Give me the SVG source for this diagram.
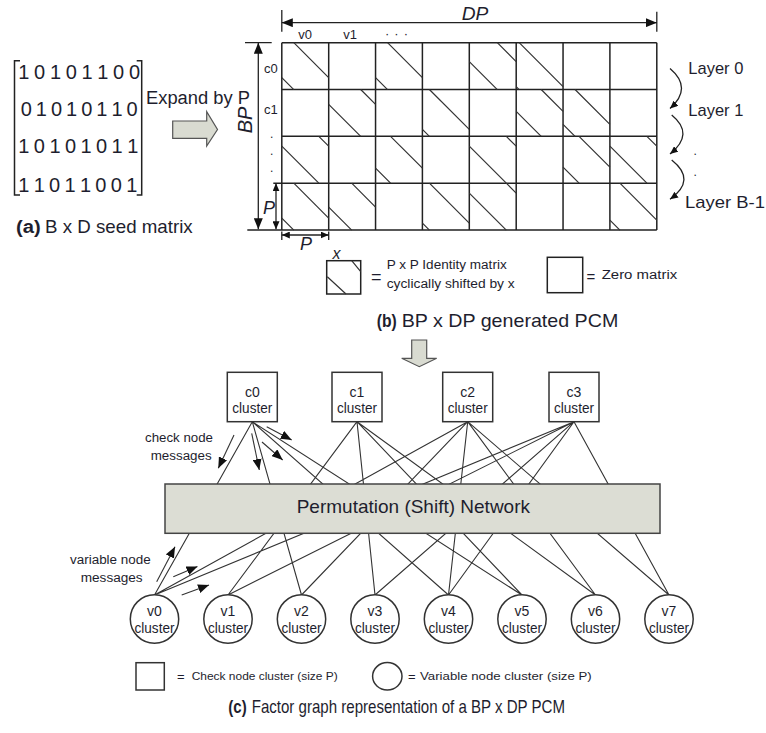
<svg xmlns="http://www.w3.org/2000/svg" width="766" height="733" viewBox="0 0 766 733">
<style>
.t{font-family:"Liberation Sans",Arial,sans-serif;fill:#1e1e2e}
.i{font-style:italic}
.b{font-weight:bold}
.g{stroke:#222;stroke-width:1.5;fill:none}
.d{stroke:#333;stroke-width:1.2;fill:none}
.e{stroke:#333;stroke-width:1.1;fill:none}
.k{stroke:#222;stroke-width:1.3;fill:none}
.nb{fill:#fff;stroke:#333;stroke-width:1.5}
.ga{fill:#d9dbd1;stroke:#555;stroke-width:1.2}
</style>
<defs>
<marker id="ah" viewBox="0 0 11 9" refX="11" refY="4.5" markerWidth="11" markerHeight="9" markerUnits="userSpaceOnUse" orient="auto-start-reverse"><path d="M0,0 L11,4.5 L0,9 z" fill="#111"/></marker>
<marker id="as" viewBox="0 0 8 7" refX="8" refY="3.5" markerWidth="8" markerHeight="7" markerUnits="userSpaceOnUse" orient="auto-start-reverse"><path d="M0,0 L8,3.5 L0,7 z" fill="#111"/></marker>
</defs>
<rect width="766" height="733" fill="#fff"/>

<g id="seed-matrix">
<path class="g" d="M20,60.7 H14.5 V195 H20 M136.7,60.7 H141.7 V195 H136.7"/>
<text class="t" x="18.3" y="79.3" font-size="20" textLength="121.7" lengthAdjust="spacing">1 0 1 0 1 1 0 0</text>
<text class="t" x="20.7" y="116" font-size="20" textLength="117" lengthAdjust="spacing">0 1 0 1 0 1 1 0</text>
<text class="t" x="18.3" y="153.3" font-size="20" textLength="120" lengthAdjust="spacing">1 0 1 0 1 0 1 1</text>
<text class="t" x="18.3" y="191.7" font-size="20" textLength="119" lengthAdjust="spacing">1 1 0 1 1 0 0 1</text>
<text class="t b" x="16" y="232.7" font-size="18" textLength="24.7" lengthAdjust="spacingAndGlyphs">(a)</text>
<text class="t" x="45" y="232.7" font-size="18.5" textLength="147.7" lengthAdjust="spacingAndGlyphs">B x D seed matrix</text>
</g>

<g id="expand-arrow">
<polygon class="ga" points="172.7,121 206.7,121 206.7,111.7 217.5,129.5 206.7,146 206.7,138.3 172.7,138.3"/>
<text class="t" x="146" y="104" font-size="18" textLength="104" lengthAdjust="spacingAndGlyphs">Expand by P</text>
</g>

<g id="pcm-grid">
<path class="g" d="M281.8,42.7 H656.8 M281.8,89.5 H656.8 M281.8,136.35 H656.8 M273.3,183.2 H656.8 M247.3,230 H656.8
M281.8,42.7 V230 M328.7,42.7 V230 M375.55,42.7 V230 M422.4,42.7 V230 M469.3,42.7 V230 M516.2,42.7 V230 M563.05,42.7 V230 M609.9,42.7 V230 M656.8,42.7 V230"/>
<path class="d" d="
M293.8,42.7 L328.65,77.55 M281.8,77.55 L293.8,89.55
M387.55,42.7 L422.4,77.55 M375.55,77.55 L387.55,89.55
M497.3,42.7 L516.15,61.55 M469.3,61.55 L497.3,89.55
M519.2,42.7 L563.05,86.55 M516.2,86.55 L519.2,89.55
M360.7,89.5 L375.55,104.35 M328.7,104.35 L360.7,136.35
M429.4,89.5 L469.25,129.35 M422.4,129.35 L429.4,136.35
M541.2,89.5 L563.05,111.35 M516.2,111.35 L541.2,136.35
M575.05,89.5 L609.9,124.35 M563.05,124.35 L575.05,136.35
M318.8,136.35 L328.65,146.2 M281.8,146.2 L318.8,183.2
M390.55,136.35 L422.4,168.2 M375.55,168.2 L390.55,183.2
M506.3,136.35 L516.15,146.2 M469.3,146.2 L506.3,183.2
M579.05,136.35 L609.9,167.2 M563.05,167.2 L579.05,183.2
M646.9,136.35 L656.75,146.2 M609.9,146.2 L646.9,183.2
M293.8,183.2 L328.65,218.05 M281.8,218.05 L293.8,230.05
M351.7,183.2 L375.55,207.05 M328.7,207.05 L351.7,230.05
M429.4,183.2 L469.25,223.05 M422.4,223.05 L429.4,230.05
M506.3,183.2 L516.15,193.05 M469.3,193.05 L506.3,230.05
M619.9,183.2 L656.75,220.05 M609.9,220.05 L619.9,230.05"/>
<path class="k" d="M281.8,10 V31.7 M656.8,11.7 V31.7 M245,42.7 H271.7 M281.8,231.5 V240 M328.7,231.5 V240"/>
<line class="k" x1="281.8" y1="22.7" x2="656.8" y2="22.7" marker-start="url(#ah)" marker-end="url(#ah)"/>
<line class="k" x1="258.3" y1="42.7" x2="258.3" y2="229.3" marker-start="url(#ah)" marker-end="url(#ah)"/>
<line class="k" x1="276" y1="183.3" x2="276" y2="229.3" marker-start="url(#as)" marker-end="url(#as)"/>
<line class="k" x1="281.8" y1="235" x2="328.7" y2="235" marker-start="url(#as)" marker-end="url(#as)"/>
<text class="t i" x="461.7" y="20" font-size="19" textLength="26.6" lengthAdjust="spacingAndGlyphs">DP</text>
<text class="t i" transform="translate(252,120) rotate(-90)" text-anchor="middle" font-size="20">BP</text>
<text class="t i" x="263" y="214" font-size="18">P</text>
<text class="t i" x="300" y="250" font-size="18">P</text>
<text class="t" x="298.3" y="39" font-size="13">v0</text>
<text class="t" x="343.3" y="39" font-size="13">v1</text>
<text class="t" x="385" y="38" font-size="13" textLength="23" lengthAdjust="spacing">· · ·</text>
<text class="t" x="264" y="72.7" font-size="13">c0</text>
<text class="t" x="264" y="114.3" font-size="13">c1</text>
<text class="t" x="270" y="138" font-size="12">.</text>
<text class="t" x="270" y="155" font-size="12">.</text>
<text class="t" x="270" y="172" font-size="12">.</text>
</g>

<g id="layers">
<path class="k" d="M670,68.5 Q693,88 670,108.5" marker-end="url(#as)"/>
<path class="k" d="M671.7,115 Q695,134 670,154" marker-end="url(#as)"/>
<path class="k" d="M671.7,160 Q697,180 670,199.3" marker-end="url(#as)"/>
<text class="t" x="688.3" y="74" font-size="17" textLength="55" lengthAdjust="spacingAndGlyphs">Layer 0</text>
<text class="t" x="688.3" y="116" font-size="17" textLength="55" lengthAdjust="spacingAndGlyphs">Layer 1</text>
<text class="t" x="693.5" y="155" font-size="12">.</text>
<text class="t" x="693.5" y="176" font-size="12">.</text>
<text class="t" x="685" y="208" font-size="17" textLength="80" lengthAdjust="spacingAndGlyphs">Layer B-1</text>
</g>

<g id="legend-b">
<rect x="326.7" y="260.7" width="34" height="33.3" class="g"/>
<path class="d" d="M351.7,260.7 L360.7,271.7 M327.3,276.7 L346,294"/>
<text class="t i" x="332.5" y="259" font-size="16">x</text>
<text class="t" x="371" y="283" font-size="18">=</text>
<text class="t" x="386.7" y="269.3" font-size="12" textLength="120" lengthAdjust="spacingAndGlyphs">P x P Identity matrix</text>
<text class="t" x="386.7" y="287.7" font-size="12" textLength="128" lengthAdjust="spacingAndGlyphs">cyclically shifted by x</text>
<rect x="547.3" y="257.3" width="35.4" height="35.4" class="g"/>
<text class="t" x="586.5" y="281.5" font-size="15">=</text>
<text class="t" x="601.7" y="279.3" font-size="12.5" textLength="75.6" lengthAdjust="spacingAndGlyphs">Zero matrix</text>
<text class="t b" x="376.7" y="327" font-size="19" textLength="20" lengthAdjust="spacingAndGlyphs">(b)</text>
<text class="t" x="401.7" y="327" font-size="19" textLength="216.6" lengthAdjust="spacingAndGlyphs">BP x DP generated PCM</text>
</g>

<g id="down-arrow">
<polygon class="ga" points="411.7,340 426.7,340 426.7,358.3 436.7,358.3 419.3,366.7 401.7,358.3 411.7,358.3"/>
</g>

<g id="connectors">
<path class="e" d="
M252.3,421.7 L154.5,595 M252.3,421.7 L301.5,595 M252.3,421.7 L448.5,595 M252.3,421.7 L522,595
M357,421.7 L228,595 M357,421.7 L375,595 M357,421.7 L522,595 M357,421.7 L595.5,595
M467.7,421.7 L154.5,595 M467.7,421.7 L301.5,595 M467.7,421.7 L448.5,595 M467.7,421.7 L595.5,595 M467.7,421.7 L669,595
M574,421.7 L154.5,595 M574,421.7 L228,595 M574,421.7 L375,595 M574,421.7 L448.5,595 M574,421.7 L669,595"/>
<line class="e" x1="234" y1="435" x2="218.3" y2="468.3" marker-end="url(#ah)"/>
<line class="e" x1="251.7" y1="433.3" x2="259.3" y2="470" marker-end="url(#ah)"/>
<line class="e" x1="262" y1="442" x2="282.7" y2="460" marker-end="url(#ah)"/>
<line class="e" x1="266.7" y1="426.7" x2="291.7" y2="440" marker-end="url(#ah)"/>
<line class="e" x1="156.7" y1="581.7" x2="175" y2="546.7" marker-end="url(#ah)"/>
<line class="e" x1="173.3" y1="576.7" x2="197.5" y2="566.5" marker-end="url(#ah)"/>
<line class="e" x1="181.7" y1="595" x2="209" y2="585" marker-end="url(#ah)"/>
<text class="t" x="145" y="442.3" font-size="12.5" textLength="68" lengthAdjust="spacingAndGlyphs">check node</text>
<text class="t" x="150.7" y="460" font-size="12.5" textLength="61" lengthAdjust="spacingAndGlyphs">messages</text>
<text class="t" x="70" y="564.3" font-size="12.5" textLength="80.7" lengthAdjust="spacingAndGlyphs">variable node</text>
<text class="t" x="80.7" y="581.7" font-size="12.5" textLength="62" lengthAdjust="spacingAndGlyphs">messages</text>
</g>

<g id="network">
<rect x="165" y="484" width="495" height="49.3" fill="#dcddd4" stroke="#444" stroke-width="1.5"/>
<text class="t" x="296.7" y="513.3" font-size="18.5" textLength="233.3" lengthAdjust="spacingAndGlyphs">Permutation (Shift) Network</text>
</g>

<g id="c0"><rect class="nb" x="227.3" y="372.3" width="50" height="49.4"/><text class="t" x="252.3" y="396.7" font-size="14" text-anchor="middle">c0</text><text class="t" x="252.3" y="412.7" font-size="14" text-anchor="middle" textLength="40" lengthAdjust="spacingAndGlyphs">cluster</text></g>
<g id="c1"><rect class="nb" x="332" y="372.3" width="50" height="49.4"/><text class="t" x="357" y="396.7" font-size="14" text-anchor="middle">c1</text><text class="t" x="357" y="412.7" font-size="14" text-anchor="middle" textLength="40" lengthAdjust="spacingAndGlyphs">cluster</text></g>
<g id="c2"><rect class="nb" x="442.7" y="372.3" width="50" height="49.4"/><text class="t" x="467.7" y="396.7" font-size="14" text-anchor="middle">c2</text><text class="t" x="467.7" y="412.7" font-size="14" text-anchor="middle" textLength="40" lengthAdjust="spacingAndGlyphs">cluster</text></g>
<g id="c3"><rect class="nb" x="549" y="372.3" width="50" height="49.4"/><text class="t" x="574" y="396.7" font-size="14" text-anchor="middle">c3</text><text class="t" x="574" y="412.7" font-size="14" text-anchor="middle" textLength="40" lengthAdjust="spacingAndGlyphs">cluster</text></g>

<g id="v0"><circle class="nb" cx="154.5" cy="619" r="24.2"/><text class="t" x="154.5" y="615.7" font-size="14" text-anchor="middle">v0</text><text class="t" x="154.5" y="632.7" font-size="14" text-anchor="middle" textLength="40" lengthAdjust="spacingAndGlyphs">cluster</text></g>
<g id="v1"><circle class="nb" cx="228" cy="619" r="24.2"/><text class="t" x="228" y="615.7" font-size="14" text-anchor="middle">v1</text><text class="t" x="228" y="632.7" font-size="14" text-anchor="middle" textLength="40" lengthAdjust="spacingAndGlyphs">cluster</text></g>
<g id="v2"><circle class="nb" cx="301.5" cy="619" r="24.2"/><text class="t" x="301.5" y="615.7" font-size="14" text-anchor="middle">v2</text><text class="t" x="301.5" y="632.7" font-size="14" text-anchor="middle" textLength="40" lengthAdjust="spacingAndGlyphs">cluster</text></g>
<g id="v3"><circle class="nb" cx="375" cy="619" r="24.2"/><text class="t" x="375" y="615.7" font-size="14" text-anchor="middle">v3</text><text class="t" x="375" y="632.7" font-size="14" text-anchor="middle" textLength="40" lengthAdjust="spacingAndGlyphs">cluster</text></g>
<g id="v4"><circle class="nb" cx="448.5" cy="619" r="24.2"/><text class="t" x="448.5" y="615.7" font-size="14" text-anchor="middle">v4</text><text class="t" x="448.5" y="632.7" font-size="14" text-anchor="middle" textLength="40" lengthAdjust="spacingAndGlyphs">cluster</text></g>
<g id="v5"><circle class="nb" cx="522" cy="619" r="24.2"/><text class="t" x="522" y="615.7" font-size="14" text-anchor="middle">v5</text><text class="t" x="522" y="632.7" font-size="14" text-anchor="middle" textLength="40" lengthAdjust="spacingAndGlyphs">cluster</text></g>
<g id="v6"><circle class="nb" cx="595.5" cy="619" r="24.2"/><text class="t" x="595.5" y="615.7" font-size="14" text-anchor="middle">v6</text><text class="t" x="595.5" y="632.7" font-size="14" text-anchor="middle" textLength="40" lengthAdjust="spacingAndGlyphs">cluster</text></g>
<g id="v7"><circle class="nb" cx="669" cy="619" r="24.2"/><text class="t" x="669" y="615.7" font-size="14" text-anchor="middle">v7</text><text class="t" x="669" y="632.7" font-size="14" text-anchor="middle" textLength="40" lengthAdjust="spacingAndGlyphs">cluster</text></g>

<g id="legend-c">
<rect class="nb" x="136" y="662.7" width="28.3" height="27.3"/>
<text class="t" x="177" y="681" font-size="13">=</text>
<text class="t" x="191.7" y="680" font-size="11.5" textLength="146" lengthAdjust="spacingAndGlyphs">Check node cluster   (size P)</text>
<ellipse class="nb" cx="387.3" cy="676.3" rx="14.7" ry="13.7"/>
<text class="t" x="408" y="681" font-size="13">=</text>
<text class="t" x="420" y="680" font-size="11.5" textLength="171.7" lengthAdjust="spacingAndGlyphs">Variable node cluster   (size P)</text>
<text class="t b" x="228.3" y="713.3" font-size="19" textLength="18.4" lengthAdjust="spacingAndGlyphs">(c)</text>
<text class="t" x="251.7" y="713.3" font-size="19" textLength="313.3" lengthAdjust="spacingAndGlyphs">Factor graph representation of a BP x DP PCM</text>
</g>
</svg>
